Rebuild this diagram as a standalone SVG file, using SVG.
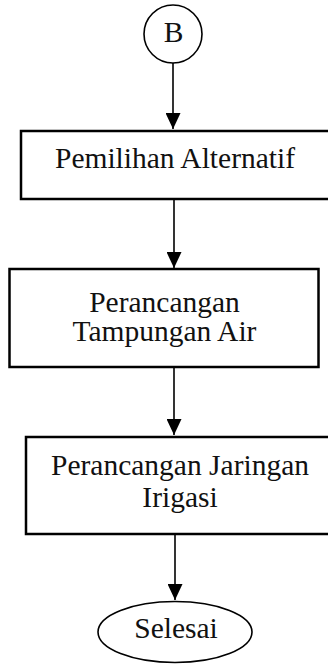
<svg xmlns="http://www.w3.org/2000/svg" width="328" height="664" viewBox="0 0 328 664">
<style>
.box{fill:#fff;stroke:#000;stroke-width:2.5}
.term{fill:#fff;stroke:#000;stroke-width:1.6}
.lbl{font-family:"Liberation Serif","Times New Roman",serif;font-size:29.5px;fill:#111;text-anchor:middle}
.edge{stroke:#000;stroke-width:1.6;fill:none}
</style>
<defs>
<marker id="ah" markerWidth="16" markerHeight="15" refX="16" refY="7.5" orient="auto" markerUnits="userSpaceOnUse" viewBox="0 0 16 15">
<path d="M0,0 L16,7.5 L0,15 Z" fill="#000"/>
</marker>
</defs>
<rect width="328" height="664" fill="#fff"/>
<g id="edges">
<line class="edge" x1="173" y1="63" x2="173" y2="129" marker-end="url(#ah)"/>
<line class="edge" x1="174" y1="199" x2="174" y2="268" marker-end="url(#ah)"/>
<line class="edge" x1="174" y1="367" x2="174" y2="435" marker-end="url(#ah)"/>
<line class="edge" x1="175" y1="534" x2="175" y2="600" marker-end="url(#ah)"/>
</g>
<g id="nodeB">
<circle class="term" cx="173" cy="34" r="29"/>
<text class="lbl" x="173.5" y="42">B</text>
</g>
<g id="node1">
<rect class="box" x="21" y="131" width="309" height="68"/>
<text class="lbl" x="175" y="168">Pemilihan Alternatif</text>
</g>
<g id="node2">
<rect class="box" x="9.5" y="269" width="309" height="98"/>
<text class="lbl" x="164.5" y="312">Perancangan</text>
<text class="lbl" x="164.5" y="341">Tampungan Air</text>
</g>
<g id="node3">
<rect class="box" x="26" y="437" width="309" height="97"/>
<text class="lbl" x="180" y="475">Perancangan Jaringan</text>
<text class="lbl" x="180" y="507">Irigasi</text>
</g>
<g id="nodeEnd">
<ellipse class="term" cx="175" cy="632" rx="77" ry="30.5"/>
<text class="lbl" x="176" y="638">Selesai</text>
</g>
</svg>
